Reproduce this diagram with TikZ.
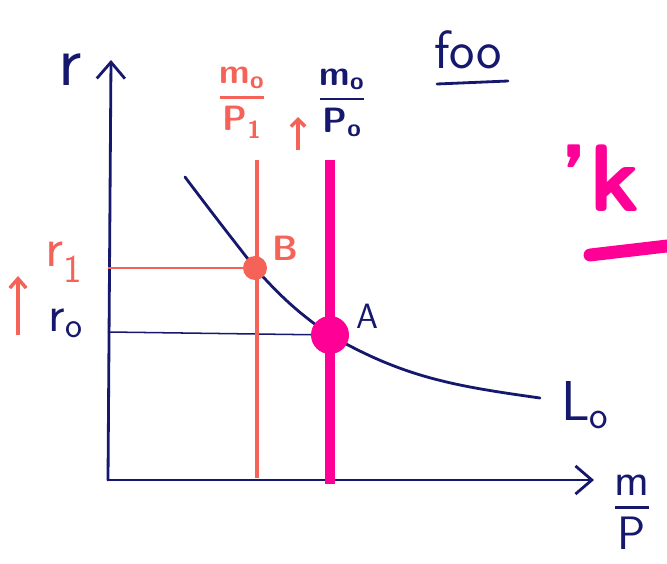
\documentclass[tikz,border=0pt]{standalone}
\usepackage{amsmath}
\usepackage{tikz}
\usetikzlibrary{arrows.meta}
\definecolor{navy}{RGB}{22,24,110}
\definecolor{salmon}{RGB}{244,98,88}
\definecolor{hotpink}{RGB}{255,0,150}
\tikzset{
  ink/.style={line width=2.4pt, line cap=round, line join=round},
  barb/.style={-{Straight Barb[length=14pt,width=24pt,line width=2.4pt]}},
  lbl/.style={inner sep=0pt, font=\sffamily\fontsize{#1}{#1}\selectfont},
  lbl/.default=40,
  blbl/.style={inner sep=0pt, font=\sffamily\bfseries\fontsize{#1}{#1}\selectfont},
}
\newcommand{\mfrac}[2]{$\genfrac{}{}{2.2pt}{0}{\text{#1}}{\text{#2}}$}
\begin{document}
\begin{tikzpicture}[x=0.03cm,y=-0.03cm]
 \useasboundingbox (0,0) rectangle (667,564);
 \coordinate (O) at (108,480);
 \coordinate (Ytop) at (111,60);
 \coordinate (Xend) at (594,480);
 \coordinate (Ls) at (185,177);
 \coordinate (B) at (255,268);
 \coordinate (A) at (330,335);
 \coordinate (Le) at (540,398);
 \coordinate (Rtop) at (257,160);
 \coordinate (Rbot) at (257,478);
 \coordinate (Ptop) at (330,160);
 \coordinate (Pbot) at (330,484);
 \coordinate (By) at (108,268);
 \coordinate (Ay) at (108,332);
 % axes
 \draw[ink,navy,barb] (O)--(Ytop);
 \draw[ink,navy,barb] (O)--(Xend);
 % guides to the axis
 \draw[salmon,line width=1pt] (By)--(B);
 \draw[navy,line width=1.3pt] (Ay)--(A);
 % money supply lines
 \draw[salmon,line width=3.4pt] (Rtop)--(Rbot);
 \draw[hotpink,line width=8.5pt] (Ptop)--(Pbot);
 % money demand
 \draw[ink,navy] (Ls) to[out=-53,in=128] (B) to[out=-48,in=145] (A)
   to[out=-30,in=172] (Le);
 \fill[salmon] (B) circle[radius=12];
 \fill[hotpink] (A) circle[radius=19];
 % labels
 \node[lbl=62,navy] (rlab) at (70,70) {r};
 \node[lbl=48,navy] (Llab) at (585,405) {L\textsubscript{o}};
 \node[lbl=40,navy] (mPlab) at (632,512) {\mfrac{m}{P}};
 \node[lbl=48,salmon] (r1lab) at (64,262) {r\textsubscript{1}};
 \node[lbl=44,navy] (r0lab) at (66,323) {r\textsubscript{o}};
 \node[blbl=30,salmon] (mP1lab) at (242,103) {\mfrac{m\textsubscript{o}}{P\textsubscript{1}}};
 \node[blbl=30,navy] (mP0lab) at (342,103) {\mfrac{m\textsubscript{o}}{P\textsubscript{o}}};
 \node[blbl=30,salmon] (Blab) at (285,248) {B};
 \node[lbl=30,navy] (Alab) at (367,316) {A};
 \node[lbl=46,navy] (foo) at (468,50) {foo};
 \node[blbl=82,hotpink] (klab) at (600,178) {'k};
 % arrows for the shifts
 \coordinate (r1a) at (18,335);
 \coordinate (r1b) at (18,276);
 \draw[salmon,line width=3pt,-{Straight Barb[length=8pt,width=14pt,line width=3pt]}] (r1a)--(r1b);
 \coordinate (pa) at (298,150);
 \coordinate (pb) at (298,117);
 \draw[salmon,line width=3pt,-{Straight Barb[length=6pt,width=12pt,line width=3pt]}] (pa)--(pb);
 % underlines
 \coordinate (u1) at (437,84);
 \coordinate (u2) at (508,81);
 \draw[ink,navy] (u1)--(u2);
 \coordinate (k1) at (590,255);
 \coordinate (k2) at (667,246);
 \draw[hotpink,line width=11pt,line cap=round] (k1)--(k2);
\end{tikzpicture}
\end{document}
